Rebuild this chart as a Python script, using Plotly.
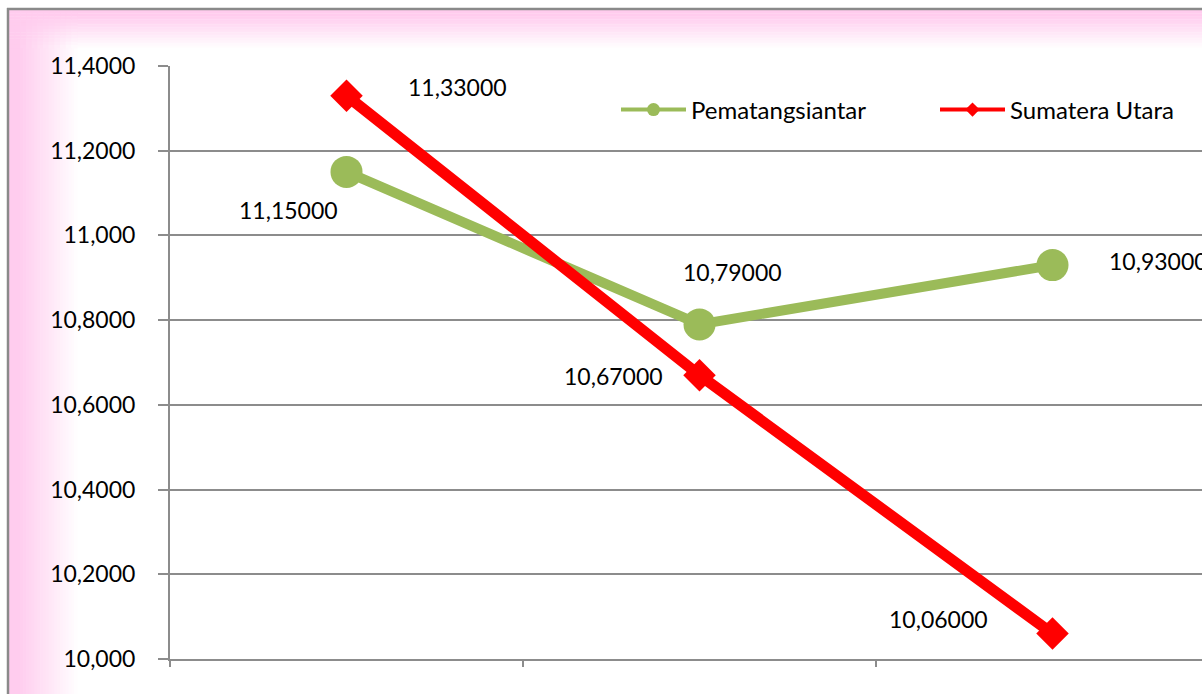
import plotly.graph_objects as go

# ---------------- data ----------------
categories = [0, 1, 2]
series_names = ["Pematangsiantar", "Sumatera Utara"]
pematangsiantar = [11.15, 10.79, 10.93]
sumatera_utara = [11.33, 10.67, 10.06]
y_tick_values = [10.0, 10.2, 10.4, 10.6, 10.8, 11.0, 11.2, 11.4]
y_tick_labels = ["10,000", "10,2000", "10,4000", "10,6000", "10,8000", "11,000", "11,2000", "11,4000"]

W, H = 1202, 694
FONT = "Lato"
GREEN = "#9BBB59"
RED = "#FF0000"
GRID = "#8c8c8c"


def fmt(v):
    return f"{v:.5f}".replace(".", ",")


fig = go.Figure()
fig.add_trace(go.Scatter(
    x=categories, y=pematangsiantar, name=series_names[0], mode="lines+markers",
    line=dict(color=GREEN, width=10),
    marker=dict(symbol="circle", size=32, color=GREEN),
    cliponaxis=False, showlegend=False,
))
fig.add_trace(go.Scatter(
    x=categories, y=sumatera_utara, name=series_names[1], mode="lines+markers",
    line=dict(color=RED, width=11),
    marker=dict(symbol="diamond", size=25, color=RED),
    cliponaxis=False, showlegend=False,
))
# legend entries (thin line + small marker like the reference legend)
fig.add_trace(go.Scatter(
    x=[None], y=[None], name=series_names[0], mode="lines+markers",
    line=dict(color=GREEN, width=4), marker=dict(symbol="circle", size=13, color=GREEN),
))
fig.add_trace(go.Scatter(
    x=[None], y=[None], name=series_names[1], mode="lines+markers",
    line=dict(color=RED, width=4), marker=dict(symbol="diamond", size=11, color=RED),
))

# data labels (anchored on data points, offset in px)
green_offsets = [(-7, -38, "right"), (33, 52, "center"), (54, 4, "left")]
red_offsets = [(59, 9, "left"), (-35, -1, "right"), (-63, 15, "right")]
annotations = []
for vals, offs in ((pematangsiantar, green_offsets), (sumatera_utara, red_offsets)):
    for xi, v, (dx, dy, xa) in zip(categories, vals, offs):
        annotations.append(dict(
            x=xi, y=v, xref="x", yref="y", text=fmt(v), showarrow=False,
            xshift=dx, yshift=dy, xanchor=xa, yanchor="middle",
            font=dict(family=FONT, size=23, color="#000"),
        ))

# background gradient bands + border
shapes = []
pink = (255, 204, 238)


def mix(t):
    t = min(1.0, max(0.0, t))
    r = [round(p + (255 - p) * t) for p in pink]
    return f"rgb({r[0]},{r[1]},{r[2]})"


def whiteness(f):
    return max(0.0, (f - 0.12) / 0.88)


N = 24
x_start, x_end = 9, 77
y_start, y_end = 10, 48
xs = [x_start + (x_end - x_start) * i / N for i in range(N + 1)]
ys = [y_start + (y_end - y_start) * i / N for i in range(N + 1)]
# left band (below the corner)
for i in range(N):
    shapes.append(dict(type="rect", xref="paper", yref="paper",
                       x0=xs[i] / W, x1=xs[i + 1] / W + 0.0005, y0=0, y1=1 - y_end / H,
                       fillcolor=mix(whiteness(i / N)), line=dict(width=0), layer="below"))
# top band (right of the corner)
for j in range(N):
    shapes.append(dict(type="rect", xref="paper", yref="paper",
                       x0=x_end / W, x1=1,
                       y0=1 - ys[j + 1] / H - 0.0005, y1=1 - ys[j] / H,
                       fillcolor=mix(whiteness(j / N)), line=dict(width=0), layer="below"))
# corner: combination of both gradients
M = 12
for i in range(M):
    for j in range(M):
        cx0 = x_start + (x_end - x_start) * i / M
        cx1 = x_start + (x_end - x_start) * (i + 1) / M
        cy0 = y_start + (y_end - y_start) * j / M
        cy1 = y_start + (y_end - y_start) * (j + 1) / M
        t = whiteness((i + 0.5) / M) * whiteness((j + 0.5) / M)
        shapes.append(dict(type="rect", xref="paper", yref="paper",
                           x0=cx0 / W, x1=cx1 / W + 0.0005,
                           y0=1 - cy1 / H - 0.0005, y1=1 - cy0 / H,
                           fillcolor=mix(t), line=dict(width=0), layer="below"))
# outer border
shapes.append(dict(type="line", xref="paper", yref="paper", x0=8 / W, x1=8 / W,
                   y0=0, y1=1 - 8 / H, line=dict(color="#8a8a8a", width=2.5)))
shapes.append(dict(type="line", xref="paper", yref="paper", x0=7 / W, x1=1,
                   y0=1 - 9 / H, y1=1 - 9 / H, line=dict(color="#8a8a8a", width=2.5)))

fig.update_layout(
    width=W, height=H,
    margin=dict(l=0, r=0, t=0, b=0, pad=0, autoexpand=False),
    paper_bgcolor="white",
    plot_bgcolor="rgba(0,0,0,0)",
    font=dict(family=FONT, size=23, color="#000"),
    showlegend=True,
    legend=dict(
        orientation="h", xref="paper", yref="paper",
        x=616 / W, y=1 - 110 / H, xanchor="left", yanchor="middle",
        font=dict(family=FONT, size=24, color="#000"),
        itemwidth=65, entrywidth=239, bgcolor="rgba(0,0,0,0)",
        traceorder="normal", itemsizing="trace",
    ),
    xaxis=dict(
        domain=[170 / W, 1], range=[-0.5, -0.5 + (W - 170) / 353.0],
        tickmode="array", tickvals=[-0.5, 0.5, 1.5, 2.5], ticktext=["", "", "", ""],
        ticks="outside", ticklen=6, tickwidth=2, tickcolor=GRID,
        showgrid=False, zeroline=False, showline=True, linecolor=GRID, linewidth=2,
        fixedrange=True,
    ),
    yaxis=dict(
        domain=[(H - 659) / H, (H - 66) / H], range=[10.0, 11.4],
        tickmode="array", tickvals=y_tick_values, ticktext=y_tick_labels,
        ticks="outside", ticklen=10, tickwidth=2, tickcolor=GRID,
        ticklabelstandoff=18,
        showgrid=True, gridcolor=GRID, gridwidth=2, zeroline=False,
        showline=True, linecolor=GRID, linewidth=2,
        tickfont=dict(family=FONT, size=23, color="#000"),
    ),
    annotations=annotations,
    shapes=shapes,
)

fig.write_html(
    "out.html",
    config={"displayModeBar": False},
    post_script="document.body.style.margin='0';document.body.style.overflow='hidden';",
)
